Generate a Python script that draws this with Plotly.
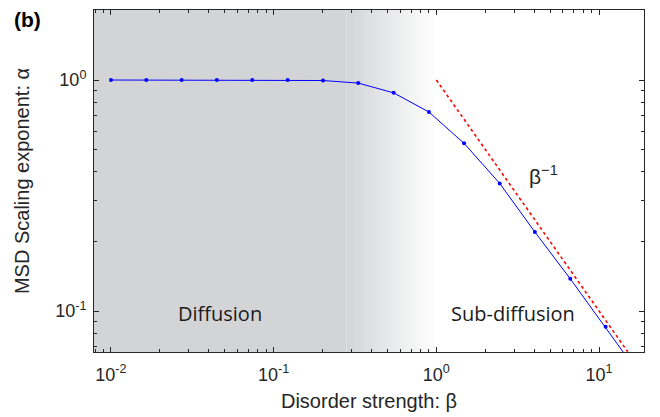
import numpy as np
import plotly.graph_objects as go

# ---- data ----
beta = [0.01, 0.0165, 0.0272, 0.0448, 0.0739, 0.122, 0.201, 0.331, 0.546,
        0.900, 1.48, 2.45, 4.03, 6.65, 10.97, 18.1]
alpha = [1.0, 1.0, 1.0, 1.0, 1.0, 1.0, 0.995, 0.97, 0.88,
         0.727, 0.532, 0.357, 0.220, 0.138, 0.0855, 0.052]
guide_beta = [1.0, 15.0]
guide_alpha = [1.0, 0.0667]

x_tickvals = [0.01, 0.1, 1, 10]
x_ticktext = ["10<sup>-2</sup>", "10<sup>-1</sup>", "10<sup>0</sup>", "10<sup>1</sup>"]
y_tickvals = [0.1, 1]
y_ticktext = ["10<sup>-1</sup>", "10<sup>0</sup>"]

XR = [-2.104, 1.276]
YR = [-1.177, 0.303]

minor_x = [m * 10.0 ** e for e in range(-3, 2) for m in range(2, 10)]
minor_y = [m * 10.0 ** e for e in range(-2, 1) for m in range(2, 10)]

def xpaper(v):
    return (np.log10(v) - XR[0]) / (XR[1] - XR[0])

# ---- background: solid gray then gradient to white ----
gray = np.array([211, 212, 214])
white = np.array([255, 255, 255])
g0 = xpaper(0.28)
g1 = xpaper(1.0)
shapes = [dict(type="rect", xref="paper", yref="paper", x0=0, x1=g0, y0=0, y1=1,
               fillcolor="rgb(211,212,214)", line_width=0, layer="below")]
n = 50
for i in range(n):
    a = g0 + (g1 - g0) * i / n
    b = g0 + (g1 - g0) * (i + 1) / n
    t = (i + 0.5) / n
    c = gray + (white - gray) * t
    shapes.append(dict(type="rect", xref="paper", yref="paper", x0=a, x1=b + 0.001,
                       y0=0, y1=1, fillcolor="rgb(%d,%d,%d)" % tuple(c.round()),
                       line_width=0, layer="below"))

fig = go.Figure()
fig.add_trace(go.Scatter(x=guide_beta, y=guide_alpha, mode="lines",
                         line=dict(color="red", width=1.6, dash="dot"),
                         showlegend=False))
fig.add_trace(go.Scatter(x=beta, y=alpha, mode="lines+markers",
                         line=dict(color="blue", width=1),
                         marker=dict(color="blue", size=4),
                         showlegend=False))

FONT = "Liberation Sans, Arial"
axis_common = dict(type="log", showgrid=False, zeroline=False, showline=True,
                   linecolor="#262626", linewidth=1, mirror="ticks",
                   ticks="inside", ticklen=5, tickcolor="#262626", tickwidth=1,
                   tickmode="array", automargin=False,
                   tickfont=dict(family=FONT, size=18, color="#262626"))

fig.update_xaxes(**axis_common, range=XR, tickvals=x_tickvals, ticktext=x_ticktext,
                 ticklabelstandoff=6,
                 minor=dict(ticks="inside", ticklen=3, tickcolor="#262626", tickvals=minor_x),
                 title=dict(text="Disorder strength: β", standoff=10,
                            font=dict(family=FONT, size=20, color="#262626")))
fig.update_yaxes(**axis_common, range=YR, tickvals=y_tickvals, ticktext=y_ticktext,
                 ticklabelstandoff=3,
                 minor=dict(ticks="inside", ticklen=3, tickcolor="#262626", tickvals=minor_y),
                 title=dict(text="MSD Scaling exponent: α", standoff=20,
                            font=dict(family=FONT, size=20, color="#262626")))

txtfont = dict(family="Open Sans", size=20, color="#1a1a1a")
annotations = [
    dict(x=-1.331, y=-1.009, xref="x", yref="y", text="Diffusion", showarrow=False, font=txtfont),
    dict(x=0.472, y=-1.009, xref="x", yref="y", text="Sub-diffusion", showarrow=False, font=txtfont),
    dict(x=0.66, y=-0.41, xref="x", yref="y", text="β<sup>−1</sup>", showarrow=False,
         font=dict(family=FONT, size=21, color="#262626")),
    dict(x=-0.150, y=1.012, xref="paper", yref="paper", text="<b>(b)</b>", showarrow=False,
         xanchor="left", yanchor="top",
         font=dict(family=FONT, size=21, color="black")),
]

fig.update_layout(width=660, height=417, margin=dict(l=94, r=16, t=10, b=65),
                  plot_bgcolor="white", paper_bgcolor="white",
                  shapes=shapes, annotations=annotations)

fig.write_html("out.html", config={"displayModeBar": False},
               post_script="document.body.style.margin='0px';")
